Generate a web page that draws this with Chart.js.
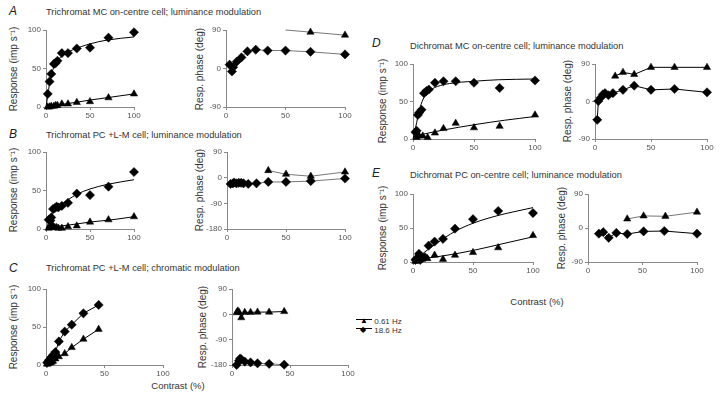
<!DOCTYPE html>
<html><head><meta charset="utf-8">
<script src="https://cdn.jsdelivr.net/npm/chart.js@4"></script>
<style>
body{margin:0;width:720px;height:396px;background:#fff;position:relative;overflow:hidden;font-family:"Liberation Sans",Arial,sans-serif;color:#333}
canvas{position:absolute}
.t{position:absolute;white-space:nowrap;font-size:9.3px;color:#333;line-height:1}
.p{position:absolute;font-size:12px;font-style:italic;color:#222;line-height:1}
.yt{position:absolute;white-space:nowrap;font-size:10px;color:#333;line-height:1;transform:translate(-50%,-50%) rotate(-90deg)}
.xt{position:absolute;white-space:nowrap;font-size:9.5px;color:#333;line-height:1;transform:translate(-50%,-50%)}
.lg{position:absolute;font-size:8px;color:#333;line-height:1;white-space:nowrap}
</style></head><body>
<div class="p" style="left:9px;top:5px">A</div>
<div class="t" style="left:46px;top:8px">Trichromat MC on-centre cell; luminance modulation</div>
<div class="p" style="left:9px;top:128px">B</div>
<div class="t" style="left:46px;top:131px">Trichromat PC +L-M cell; luminance modulation</div>
<div class="p" style="left:9px;top:262px">C</div>
<div class="t" style="left:46px;top:264px">Trichromat PC +L-M cell; chromatic modulation</div>
<div class="p" style="left:372px;top:37px">D</div>
<div class="t" style="left:410px;top:42px">Dichromat MC on-centre cell; luminance modulation</div>
<div class="p" style="left:372px;top:167px">E</div>
<div class="t" style="left:410px;top:171px">Dichromat PC on-centre cell; luminance modulation</div>

<div class="yt" style="left:14px;top:69px">Response (imp s⁻¹)</div>
<div class="yt" style="left:200px;top:69px">Resp. phase (deg)</div>
<div class="yt" style="left:14px;top:190px">Response (imp s⁻¹)</div>
<div class="yt" style="left:200px;top:190px">Resp. phase (deg)</div>
<div class="yt" style="left:14px;top:327px">Response (imp s⁻¹)</div>
<div class="yt" style="left:203px;top:327px">Resp. phase (deg)</div>
<div class="yt" style="left:383px;top:101px">Response (imp s⁻¹)</div>
<div class="yt" style="left:568px;top:101px">Resp. phase (deg)</div>
<div class="yt" style="left:383px;top:228px">Response (imp s⁻¹)</div>
<div class="yt" style="left:562px;top:228px">Resp. phase (deg)</div>
<div class="xt" style="left:178px;top:386px">Contrast (%)</div>
<div class="xt" style="left:537px;top:302px">Contrast (%)</div>

<div class="lg" style="left:356px;top:318px"><span style="display:inline-block;width:16px;position:relative;top:-2px;border-top:1px solid #000;vertical-align:middle"></span><span style="position:absolute;left:4px;top:-1px;font-size:8px;color:#000">▲</span> 0.61 Hz</div>
<div class="lg" style="left:356px;top:327px"><span style="display:inline-block;width:16px;position:relative;top:-2px;border-top:1px solid #000;vertical-align:middle"></span><span style="position:absolute;left:4px;top:-1px;font-size:8px;color:#000">◆</span> 18.6 Hz</div>

<script>
// ---------- tick labels ----------
const xTicks = [0, 50, 100];
const respTicks = [0, 50, 100];
const phaseTicks2 = [-90, 0, 90];
const phaseTicks3 = [-180, -90, 0, 90];

// ---------- A: Trichromat MC, luminance ----------
const aRespX = [2, 4, 6, 9, 11, 13, 18, 25, 35, 50, 71, 100];
const aResp186 = [17, 33, 43, 56, 57, 60, 70, 70, 76, 77, 90, 97];
const aResp061 = [0, 0, 1, 1, 2, 2, 4, 4, 6, 7, 12, 17];
const aFitX = [0, 2, 4, 6, 8, 10, 15, 20, 30, 50, 70, 100];
const aFit186 = [0, 15, 30, 41, 49, 55, 63, 68, 74, 82, 87, 91];
const aFit061X = [0, 25, 50, 75, 100];
const aFit061 = [0, 4.5, 9, 13, 17];
const aPhaseX186 = [3, 5, 6, 9, 13, 18, 25, 35, 50, 71, 100];
const aPhase186 = [9, -7, 3, 16, 26, 40, 44, 42, 42, 39, 33];
const aPhaseX061 = [50, 71, 100];
const aPhase061 = [90, 85, 78];

// ---------- B: Trichromat PC +L-M, luminance ----------
const bRespX = [3, 5, 6, 8, 10, 12, 14, 18, 25, 35, 50, 71, 100];
const bResp186 = [12, 11, 15, 26, 27, 29, 28, 30, 34, 46, 44, 55, 74];
const bResp061 = [1, 2, 3, 4, 2, 2, 1, 1, 3, 4, 9, 12, 16];
const bFitX = [0, 3, 6, 10, 15, 25, 35, 50, 70, 100];
const bFit186 = [0, 8, 16, 24, 30, 38, 45, 52, 58, 64];
const bFit061X = [0, 25, 50, 75, 100];
const bFit061 = [2, 5, 9, 12, 16];
const bPhaseX186 = [3, 5, 6, 8, 10, 12, 14, 18, 25, 35, 50, 71, 100];
const bPhase186 = [-22, -20, -17, -20, -18, -18, -20, -22, -20, -15, -15, -12, -3];
const bPhaseX061 = [35, 50, 71, 100];
const bPhase061 = [25, 12, 5, 20];

// ---------- C: Trichromat PC +L-M, chromatic ----------
const cRespX = [1, 2, 3, 4, 5, 6, 8, 11, 16, 22, 32, 45];
const cResp186 = [3, 5, 7, 9, 11, 13, 17, 31, 44, 53, 68, 79];
const cResp061 = [1, 2, 3, 3, 4, 5, 8, 11, 15, 23, 34, 47];
const cPhaseX061 = [4, 5, 6, 8, 11, 16, 22, 32, 45];
const cPhase061 = [6, 12, 8, -12, 7, 7, 8, 8, 10];
const cPhaseX186 = [4, 6, 7, 8, 11, 16, 22, 32, 45];
const cPhase186 = [-180, -165, -157, -160, -168, -171, -174, -176, -179];

// ---------- D: Dichromat MC, luminance ----------
const dRespX186 = [2, 3, 4, 5, 7, 9, 11, 13, 18, 25, 35, 50, 71, 100];
const dResp186 = [9, 11, 32, 35, 39, 61, 64, 66, 75, 77, 77, 75, 68, 78];
const dRespX061 = [3, 5, 8, 12, 18, 25, 35, 50, 71, 100];
const dResp061 = [2, 4, 4, 2, 8, 14, 21, 15, 17, 32];
const dFitX = [0, 2, 4, 6, 8, 10, 15, 20, 30, 50, 70, 100];
const dFit186 = [0, 14, 30, 43, 52, 58, 66, 70, 74, 77, 79, 80];
const dFit061X = [0, 10, 25, 50, 75, 100];
const dFit061 = [3, 7, 12, 19, 25, 30];
const dPhaseX186 = [2, 3, 5, 7, 9, 12, 16, 25, 35, 50, 71, 100];
const dPhase186 = [-44, 1, 9, 17, 20, 15, 20, 28, 38, 28, 30, 22];
const dPhaseX061 = [18, 25, 35, 50, 71, 100];
const dPhase061 = [61, 70, 65, 82, 82, 82];

// ---------- E: Dichromat PC, luminance ----------
const eRespX186 = [2, 3, 5, 6, 8, 10, 13, 18, 25, 35, 50, 71, 100];
const eResp186 = [3, 5, 12, 3, 6, 7, 24, 30, 34, 49, 63, 75, 72];
const eRespX061 = [2, 3, 5, 6, 8, 12, 18, 25, 35, 50, 71, 100];
const eResp061 = [1, 2, 3, 4, 5, 5, 10, 4, 10, 14, 21, 39];
const eFitX = [0, 5, 10, 20, 35, 50, 70, 100];
const eFit186 = [0, 8, 15, 28, 45, 57, 68, 80];
const eFit061X = [0, 25, 50, 75, 100];
const eFit061 = [3, 9, 17, 27, 37];
const ePhaseX186 = [10, 14, 19, 26, 36, 51, 70, 100];
const ePhase186 = [-15, -11, -26, -13, -16, -9, -8, -15];
const ePhaseX061 = [36, 51, 71, 100];
const ePhase061 = [24, 32, 31, 42];

// ---------- helpers ----------
const pts = (xs, ys) => xs.map((x, i) => ({x: x, y: ys[i]}));
function marks(xs, ys, style, lineColor, ymax) {
  return {
    data: pts(xs, ys), pointStyle: style,
    pointRadius: c => (c.raw && ymax !== undefined && c.raw.y >= ymax) ? 0 : (style === 'rectRot' ? 4.6 : 4.2),
    pointBackgroundColor: '#000', pointBorderColor: '#000', pointBorderWidth: 0.5,
    showLine: !!lineColor, borderColor: lineColor || '#000', borderWidth: 1, clip: false
  };
}
function fit(xs, ys) {
  return { data: pts(xs, ys), showLine: true, pointRadius: 0, borderColor: '#000',
    borderWidth: 1, cubicInterpolationMode: 'monotone', clip: false };
}
const D = 'rectRot', T = 'triangle', G = '#777';

const panels = [
  {box: [46, 30, 134, 107], y: respTicks, ds: [
    marks(aRespX, aResp186, D), marks(aRespX, aResp061, T), fit(aFitX, aFit186), fit(aFit061X, aFit061)]},
  {box: [226, 30, 345, 107], y: phaseTicks2, ds: [
    marks(aPhaseX186, aPhase186, D, G), marks(aPhaseX061, aPhase061, T, G, 90)]},
  {box: [46, 152, 134, 229], y: respTicks, ds: [
    marks(bRespX, bResp186, D), marks(bRespX, bResp061, T), fit(bFitX, bFit186), fit(bFit061X, bFit061)]},
  {box: [227, 152, 345, 229], y: phaseTicks3, ds: [
    marks(bPhaseX186, bPhase186, D, G), marks(bPhaseX061, bPhase061, T, G)]},
  {box: [46, 289, 163, 365], y: respTicks, ds: [
    marks(cRespX, cResp186, D, '#000'), marks(cRespX, cResp061, T, '#000')]},
  {box: [232, 289, 348, 365], y: phaseTicks3, ds: [
    marks(cPhaseX186, cPhase186, D, G), marks(cPhaseX061, cPhase061, T, '#000')]},
  {box: [413, 64, 535, 139], y: respTicks, ds: [
    marks(dRespX186, dResp186, D), marks(dRespX061, dResp061, T), fit(dFitX, dFit186), fit(dFit061X, dFit061)]},
  {box: [595, 64, 707, 139], y: phaseTicks2, ds: [
    marks(dPhaseX186, dPhase186, D, '#000'), marks(dPhaseX061, dPhase061, T, '#000')]},
  {box: [413, 194, 533, 262], y: respTicks, ds: [
    marks(eRespX186, eResp186, D), marks(eRespX061, eResp061, T), fit(eFitX, eFit186), fit(eFit061X, eFit061)]},
  {box: [588, 194, 697, 262], y: phaseTicks2, ds: [
    marks(ePhaseX186, ePhase186, D, '#000'), marks(ePhaseX061, ePhase061, T, G)]}
];

const YW = 26, XH = 14, PT = 8, PR = 10;
const tickFont = {family: '"Liberation Sans", Arial, sans-serif', size: 8};
panels.forEach(p => {
  const [L, Tp, R, B] = p.box;
  const cv = document.createElement('canvas');
  const w = R - L + YW + PR, h = B - Tp + PT + XH;
  cv.width = w; cv.height = h;
  cv.style.left = (L - YW) + 'px'; cv.style.top = (Tp - PT) + 'px';
  cv.style.width = w + 'px'; cv.style.height = h + 'px';
  document.body.appendChild(cv);
  const yt = p.y;
  new Chart(cv, {
    type: 'scatter',
    data: {datasets: p.ds},
    options: {
      responsive: false, animation: false, devicePixelRatio: 1,
      layout: {padding: {top: PT, right: PR, left: 0, bottom: 0}},
      plugins: {legend: {display: false}, tooltip: {enabled: false}},
      scales: {
        x: {type: 'linear', min: xTicks[0], max: xTicks[xTicks.length - 1],
          afterBuildTicks: s => { s.ticks = xTicks.map(v => ({value: v})); },
          afterFit: s => { s.height = XH; },
          grid: {drawOnChartArea: false, drawTicks: true, tickLength: 3, color: '#888'},
          border: {color: '#888', width: 1},
          ticks: {font: tickFont, color: '#555', padding: 1, maxRotation: 0}},
        y: {type: 'linear', min: yt[0], max: yt[yt.length - 1],
          afterBuildTicks: s => { s.ticks = yt.map(v => ({value: v})); },
          afterFit: s => { s.width = YW; },
          grid: {drawOnChartArea: false, drawTicks: true, tickLength: 3, color: '#888'},
          border: {color: '#888', width: 1},
          ticks: {font: tickFont, color: '#555', padding: 2}}
      }
    }
  });
});
</script>
</body></html>
